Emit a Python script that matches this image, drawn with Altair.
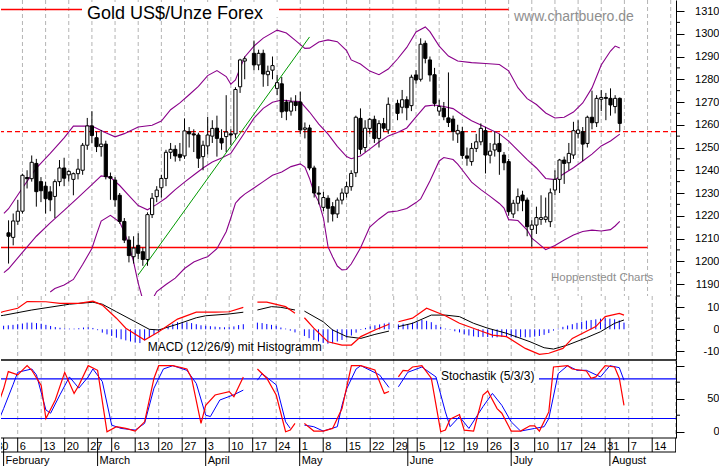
import altair as alt
import numpy as np
import pandas as pd

FONT = "Liberation Sans"
BASE = np.datetime64("2017-01-30")


def sess(d):
    d = d if len(d) > 5 else "2017-" + d
    return int(np.busday_count(BASE, np.datetime64(d)))


# ---------------- candles (one entry per weekday, Feb 1 .. Aug 4) ----------------
candle_first, candle_last = "2017-02-01", "2017-08-04"
opens = [
    1212.5, 1210.5, 1217.6,
    1222, 1236.8, 1236.3, 1243, 1235,
    1233, 1230.5, 1228.5, 1235, 1241,
    1238, 1236, 1238.5, 1240, 1251,
    1259.5, 1254.3, 1250.4, 1251.5, 1237.2,
    1235.7, 1229, 1217.5, 1209.3, 1202,
    1207, 1204.2, 1200.8, 1220.5, 1228.4,
    1232.3, 1236.4, 1247.9, 1249.2, 1247,
    1246.3, 1257, 1256, 1255.5, 1246,
    1250.7, 1255, 1258.5, 1254, 1254.8,
    1256, 1256, 1276.7, 1288, None,
    1291.4, 1286.3, 1291.4, 1282, 1284,
    1276, 1278, 1270, 1266, 1270,
    1270, 1258, 1258.6, 1241, 1230,
    1223.7, 1227.7, 1224, 1220.8, 1226.9,
    1229.9, 1232.8, 1238.9, 1262.8, 1250,
    1258.4, 1262.4, 1254, 1260.5, 1257.7,
    None, 1269.4, 1267.7, 1271, 1268.4,
    1281.9, 1280, 1295.8, 1288.5, 1282,
    1266, 1267.3, 1263, 1262.5, 1256,
    1257, 1246.3, 1243.8, 1249.6, 1252.5,
    1257.4, 1246.6, 1248.9, 1251.8, 1246.7,
    1243.8, 1220.8, 1225.5, 1229.1, 1226.9,
    1214, 1215.9, 1218.4, 1218.4, 1217.4,
    1231.3, 1236, 1244.5, 1243.3, 1246.7,
    1256.2, 1257, 1251.8, 1263.3, 1260.9,
    1271.2, 1272, 1271.6, 1268, 1271.6,
]
highs = [
    1218, 1221, 1227,
    1238.5, 1240, 1246.5, 1245, 1237,
    1235, 1233, 1236, 1244.5, 1245.5,
    1240, 1239, 1245, 1252, 1263,
    1266, 1257, 1257.7, 1253, 1239,
    1237, 1230, 1219, 1211, 1211,
    1212.3, 1206, 1221.5, 1230, 1233,
    1238, 1249, 1252, 1251, 1252,
    1262.8, 1259, 1258, 1256.5, 1253,
    1263.5, 1262, 1264, 1258, 1273,
    1258, 1276.5, 1289, 1290, None,
    1297, 1293, 1293, 1286, 1290,
    1282, 1281, 1271, 1272, 1273,
    1274.5, 1261, 1260, 1242, 1233,
    1230.5, 1229, 1226, 1228, 1232,
    1235, 1240, 1264, 1267.2, 1262,
    1263, 1264, 1262, 1263, 1272,
    None, 1271, 1275.3, 1272.5, 1282,
    1284, 1298, 1297, 1290, 1285,
    1271, 1270, 1283, 1264, 1260,
    1259, 1250, 1252, 1256, 1260.6,
    1259, 1252, 1257, 1256, 1248,
    1245, 1227, 1232, 1231, 1228,
    1218, 1224, 1229, 1228, 1232,
    1240, 1245, 1246, 1252, 1261.3,
    1262, 1259, 1264, 1275, 1273,
    1275.3, 1274, 1276, 1273, 1272,
]
lows = [
    1199, 1207, 1216,
    1221, 1232, 1235, 1224, 1226,
    1221, 1222, 1219, 1233, 1233,
    1235, 1229, 1236, 1238, 1249,
    1252, 1248, 1246, 1236, 1227,
    1224, 1216.5, 1208, 1199.5, 1199,
    1201, 1198, 1198, 1219, 1226,
    1228, 1233, 1245, 1243.8, 1244,
    1245, 1250, 1248, 1241, 1240,
    1247, 1252, 1246, 1249, 1248,
    1251, 1254, 1274, 1280, None,
    1284, 1284, 1276.7, 1277, 1280,
    1273, 1263, 1262, 1264, 1266,
    1256, 1254, 1240, 1228, 1225,
    1222, 1217, 1217.5, 1219, 1225,
    1228, 1231, 1237, 1247, 1248,
    1256, 1252, 1250, 1257, 1256,
    None, 1262, 1265, 1262, 1266,
    1278, 1279, 1287, 1279, 1268,
    1264, 1262, 1259, 1253, 1252,
    1245, 1242, 1242, 1248, 1251,
    1238.6, 1243, 1246, 1238, 1240,
    1220, 1219, 1222, 1222, 1211,
    1206.4, 1212, 1216, 1217, 1215,
    1229, 1230, 1234, 1240, 1245,
    1254, 1244, 1250, 1258, 1259,
    1266, 1262, 1264, 1265, 1257,
]
closes = [
    1211, 1217.7, 1222,
    1237.8, 1236.3, 1243.5, 1230.6, 1231,
    1227.5, 1227, 1235, 1241, 1236.5,
    1239.5, 1238.5, 1240.5, 1251, 1259.5,
    1255.3, 1250.4, 1251.5, 1237.2, 1236.5,
    1227, 1217.5, 1209.3, 1202.5, 1205.8,
    1203.5, 1200.8, 1220.5, 1227.7, 1231.3,
    1236.4, 1247.9, 1249.2, 1246.3, 1245.7,
    1257.3, 1256, 1255.5, 1245.3, 1251,
    1255.5, 1258.4, 1254, 1252, 1256.8,
    1255.5, 1275.5, 1288.5, 1289, None,
    1286.3, 1291.4, 1282.3, 1283.5, 1286,
    1278.5, 1265.7, 1266, 1270, 1268.5,
    1257.7, 1258.6, 1241, 1230, 1229.5,
    1228, 1223.3, 1220.8, 1226.9, 1230,
    1232.8, 1238.6, 1263.3, 1249.2, 1258.5,
    1262.4, 1254, 1260.5, 1258.5, 1269,
    None, 1265, 1271, 1267.5, 1280.9,
    1279.7, 1295.4, 1289.2, 1281.9, 1269.4,
    1268, 1263.5, 1261, 1257, 1257.5,
    1246.5, 1245.3, 1249.6, 1252.5, 1258.4,
    1246.7, 1248.4, 1251.5, 1248.2, 1243.3,
    1221.8, 1225.5, 1228.4, 1226.6, 1215.2,
    1215.9, 1219.2, 1219.2, 1219.5, 1230.1,
    1236, 1244.5, 1243, 1247.4, 1257.4,
    1257.7, 1251.5, 1263.3, 1260.9, 1271.6,
    1272, 1271.6, 1268.7, 1271.6, 1260.6,
]

# ---------------- Bollinger bands ----------------
upper_band = [("01-31",1221.0),("02-01",1223.1),("02-06",1232.2),("02-09",1240.9),("02-14",1247.4),("02-17",1254.2),("02-21",1259.4),("02-27",1259.4),("03-02",1256.5),("03-06",1254.7),("03-08",1256.1),("03-13",1259.0),("03-16",1259.8),("03-20",1261.6),("03-22",1266.6),("03-24",1269.6),("03-28",1273.2),("03-30",1276.9),("04-03",1281.6),("04-05",1283.8),("04-07",1281.2),("04-10",1277.9),("04-11",1279.7),("04-12",1284.9),("04-13",1289.8),("04-17",1294.6),("04-19",1298.1),("04-24",1301.6),("04-26",1300.3),("04-28",1297.0),("05-02",1293.6),("05-03",1293.7),("05-05",1296.4),("05-09",1297.3),("05-11",1296.5),("05-15",1292.6),("05-16",1288.5),("05-18",1286.7),("05-22",1283.6),("05-24",1282.0),("05-26",1284.5),("05-30",1288.9),("06-01",1294.0),("06-05",1300.8),("06-07",1303.0),("06-08",1300.9),("06-12",1294.6),("06-14",1290.2),("06-16",1288.0),("06-21",1287.3),("06-26",1286.9),("06-29",1286.5),("07-03",1283.7),("07-05",1276.3),("07-07",1271.5),("07-11",1268.9),("07-13",1265.2),("07-17",1263.0),("07-19",1263.3),("07-21",1265.6),("07-25",1269.6),("07-27",1276.2),("07-31",1286.3),("08-02",1292.4),("08-03",1294.6),("08-04",1293.7)]
middle_band = [("01-31",1195.0),("02-01",1196.7),("02-06",1203.9),("02-09",1211.0),("02-14",1216.9),("02-17",1222.4),("02-22",1228.0),("02-27",1233.7),("03-01",1237.5),("03-03",1236.9),("03-07",1233.3),("03-09",1228.9),("03-13",1224.5),("03-15",1222.6),("03-17",1225.0),("03-21",1227.8),("03-23",1231.5),("03-27",1234.8),("03-29",1237.9),("03-31",1241.0),("04-04",1243.6),("04-06",1245.4),("04-10",1247.4),("04-12",1253.5),("04-13",1256.6),("04-17",1262.9),("04-19",1267.2),("04-21",1269.9),("04-25",1270.9),("04-27",1270.4),("05-01",1270.2),("05-03",1265.6),("05-05",1260.3),("05-09",1255.9),("05-11",1250.5),("05-15",1246.0),("05-16",1245.1),("05-18",1246.3),("05-22",1249.3),("05-24",1252.4),("05-26",1255.1),("05-30",1256.6),("06-01",1258.6),("06-05",1263.5),("06-07",1268.2),("06-09",1268.7),("06-13",1268.0),("06-15",1267.1),("06-19",1264.3),("06-21",1261.8),("06-23",1259.9),("06-27",1257.9),("06-29",1256.0),("07-03",1252.8),("07-05",1248.7),("07-07",1244.7),("07-11",1241.0),("07-13",1236.4),("07-17",1235.9),("07-19",1238.6),("07-21",1241.1),("07-25",1244.1),("07-27",1247.1),("07-31",1250.7),("08-02",1252.9),("08-04",1255.9)]
lower_band = [("02-14",1186.5),("02-15",1188.0),("02-17",1189.6),("02-21",1192.0),("02-23",1198.6),("02-27",1205.6),("02-28",1211.8),("03-01",1217.7),("03-03",1220.2),("03-07",1217.2),("03-08",1212.7),("03-09",1207.1),("03-10",1199.7),("03-13",1190.4),("03-14",1183.0),("03-15",1180.0),("03-16",1183.0),("03-17",1186.7),("03-21",1189.8),("03-23",1192.6),("03-27",1196.8),("03-29",1199.7),("03-31",1201.3),("04-03",1202.0),("04-05",1205.5),("04-07",1213.0),("04-10",1219.0),("04-11",1225.5),("04-12",1227.8),("04-13",1229.5),("04-17",1232.2),("04-19",1235.0),("04-21",1237.8),("04-25",1239.2),("04-27",1241.6),("05-01",1242.8),("05-02",1241.4),("05-03",1236.4),("05-04",1230.0),("05-05",1226.0),("05-08",1219.0),("05-09",1206.3),("05-10",1201.9),("05-11",1197.9),("05-12",1196.2),("05-15",1196.4),("05-16",1198.8),("05-18",1205.8),("05-22",1215.0),("05-24",1218.6),("05-26",1221.6),("05-30",1222.1),("06-01",1223.2),("06-05",1225.8),("06-06",1227.4),("06-07",1231.3),("06-08",1235.3),("06-09",1239.7),("06-12",1244.1),("06-13",1245.6),("06-15",1244.7),("06-16",1242.7),("06-19",1240.1),("06-21",1234.8),("06-23",1231.5),("06-27",1228.5),("06-29",1225.4),("06-30",1223.4),("07-03",1218.3),("07-05",1217.9),("07-07",1213.7),("07-10",1210.2),("07-11",1208.5),("07-13",1205.1),("07-17",1206.9),("07-19",1209.3),("07-21",1211.5),("07-25",1213.1),("07-27",1213.7),("07-31",1213.3),("08-02",1213.9),("08-03",1215.5),("08-04",1217.5)]

# drawn lines on the price chart
trend_line = [("03-13", 1194.0), ("05-03", 1298.6)]
red_segments = [("01-30", "07-03", 1310.7), ("01-30", "08-14", 1206.1)]
red_dashed_level = 1257.0

# ---------------- MACD (12/26/9) ----------------
macd_line = [("01-31",7.3),("02-01",8.0),("02-06",9.5),("02-08",12.5),("02-14",12.4),("02-17",11.7),("02-23",11.7),("02-28",12.7),("03-02",10.9),("03-07",5.0),("03-09",0.5),("03-15",-4.8),("03-20",-1.1),("03-24",4.6),("03-30",7.7),("04-05",7.7),("04-10",7.9),("04-13",9.9),("04-14",None),("04-18",12.2),("04-20",12.2),("04-26",10.2),("04-28",7.2),("05-01",None),("05-02",5.2),("05-04",0.5),("05-09",-5.6),("05-12",-7.1),("05-16",-7.1),("05-18",-3.3),("05-23",-0.3),("05-26",2.3),("05-29",None),("05-30",3.4),("06-02",5.0),("06-07",9.5),("06-13",6.1),("06-16",2.7),("06-23",-1.1),("06-27",-2.6),("06-30",-3.3),("07-06",-8.6),("07-11",-11.3),("07-13",-10.8),("07-18",-8.6),("07-20",-4.1),("07-27",1.2),("07-31",5.7),("08-03",7.2),("08-04",6.4)]
signal_line = [("01-31",6.0),("02-01",6.3),("02-09",8.7),("02-21",11.3),("02-28",12.2),("03-02",11.3),("03-07",7.9),("03-13",3.4),("03-16",0.0),("03-20",-0.3),("03-24",2.3),("03-30",5.2),("04-03",6.1),("04-10",6.9),("04-13",7.7),("04-14",None),("04-18",8.7),("04-21",10.2),("04-25",9.9),("04-28",8.7),("05-01",None),("05-02",8.2),("05-08",3.4),("05-10",-0.3),("05-15",-3.3),("05-18",-4.1),("05-23",-2.3),("05-26",-0.8),("05-29",None),("05-30",1.2),("06-02",2.7),("06-08",6.4),("06-13",6.4),("06-16",5.7),("06-21",2.7),("06-26",0.5),("06-30",-1.8),("07-07",-5.6),("07-12",-8.3),("07-14",-8.9),("07-19",-7.1),("07-25",-3.8),("07-28",-1.1),("08-02",2.7),("08-04",4.2)]
# histogram, one entry per weekday Feb 1 .. Aug 4
histogram = [
    1.6, 1.8, 2.0,
    2.2, 2.6, 3.0, 3.0, 2.8,
    2.5, 2.0, 1.5, 1.0, 0.7,
    0.4, 0.3, 0.3, 0.5, 0.8,
    0.9, 0.6, -0.4, -1.5, -2.3,
    -3.0, -3.8, -4.5, -5.0, -5.5,
    -6.0, -6.2, -5.0, -3.8, -2.5,
    -1.2, 0.2, 1.2, 2.5, 3.2,
    3.4, 3.2, 2.8, 2.3, 1.8,
    1.6, 1.4, 1.2, 1.0, 0.9,
    0.9, 1.3, 1.9, 2.3, None,
    None, 3.0, 2.8, 2.4, 2.0,
    1.6, 0.8, 0.3, -0.6, -1.4,
    None, -3.0, -4.0, -4.8, -5.5,
    -6.2, -6.5, -6.3, -5.5, -4.8,
    -3.8, -2.8, -1.5, -0.3, 0.6,
    1.3, 1.8, 2.2, 2.6, 3.0,
    None, 2.2, 2.5, 2.4, 3.0,
    3.3, 4.2, 3.8, 3.2, 2.0,
    1.0, 0.3, -0.2, -0.9, -1.4,
    -2.2, -2.8, -3.2, -3.5, -3.4,
    -3.5, -3.7, -3.6, -3.4, -3.2,
    -3.6, -3.8, -3.7, -3.6, -3.6,
    -3.3, -3.0, -2.5, -1.7, -0.6,
    0.3, 1.1, 1.7, 2.3, 2.9,
    3.4, 3.9, 4.2, 4.5, 4.8,
    5.0, 4.8, 4.5, 4.0, 3.0,
]

# ---------------- Stochastik (5/3/3) ----------------
stoch_k = [("01-31",45),("02-01",65),("02-02",91),("02-06",86),("02-08",100),("02-09",93),("02-13",70),("02-14",20),("02-16",48),("02-20",90),("02-22",58),("02-23",70),("02-27",100),("03-01",93),("03-03",0),("03-07",7.6),("03-09",5),("03-13",1),("03-15",15),("03-17",81),("03-20",100),("03-23",100),("03-28",95),("03-29",81),("03-31",12.6),("04-03",40),("04-05",55.6),("04-10",60.6),("04-11",53),("04-13",83),("04-14",None),("04-18",95),("04-20",81),("04-24",55.6),("04-26",0),("04-27",2.5),("04-28",12.6),("05-01",None),("05-02",12.6),("05-04",1),("05-08",1),("05-10",5),("05-12",35),("05-16",100),("05-18",100),("05-23",93.4),("05-25",58),("05-26",61),("05-29",None),("05-30",83),("05-31",93),("06-01",92),("06-02",98),("06-06",100),("06-08",81),("06-12",0),("06-13",2.5),("06-14",19),("06-16",26),("06-19",2.5),("06-21",1),("06-23",55.6),("06-26",61.6),("06-28",35),("06-29",28),("07-03",1),("07-05",1),("07-07",9),("07-10",9),("07-11",1),("07-13",30),("07-14",98),("07-19",100),("07-20",95),("07-25",92),("07-26",81),("07-27",83),("07-31",100),("08-02",98),("08-03",81),("08-04",40)]
stoch_d = [("01-31",18),("02-01",35),("02-03",71),("02-06",90),("02-09",95),("02-10",86),("02-14",33),("02-15",28),("02-17",56),("02-21",83),("02-23",66),("02-27",83),("02-28",95),("03-02",76),("03-06",10),("03-08",5),("03-13",2.5),("03-15",12.6),("03-17",66),("03-21",95),("03-23",100),("03-28",93),("03-30",73),("04-03",25),("04-04",23),("04-06",48),("04-11",56),("04-13",63),("04-14",None),("04-18",78),("04-19",88),("04-24",71),("04-26",15),("04-27",5),("05-01",None),("05-02",10),("05-04",7.6),("05-08",1),("05-11",7.6),("05-12",40),("05-15",65),("05-17",95),("05-18",100),("05-24",86),("05-26",67),("05-29",None),("05-30",68),("06-01",90),("06-06",98),("06-09",83),("06-13",30),("06-14",7.6),("06-16",23),("06-20",5),("06-23",38),("06-27",58),("06-29",40),("07-03",15),("07-05",1),("07-10",5),("07-12",7.6),("07-13",20),("07-17",88),("07-19",100),("07-21",93),("07-25",93),("07-28",83),("08-01",100),("08-03",97),("08-04",78)]
stoch_levels = [20, 80]

# ---------------- date axis ----------------
week_start = "2017-01-30"
week_labels = ["30","6","13","20","27","6","13","20","27","3","10","17","24","1","8","15",
               "22","29","5","12","19","26","3","10","17","24","31","7","14","21"]
month_names = ["February", "March", "April", "May", "June", "July", "August"]
month_first = ["02-01", "03-01", "04-03", "05-01", "06-01", "07-03", "08-01"]

# ---------------- axis ticks ----------------
price_major = list(range(1190, 1311, 10))
price_minor = list(range(1195, 1306, 10))
macd_major, macd_minor = [-10, 0, 10], [-5, 5, 15]
stoch_major, stoch_minor = [0, 50, 100], [25, 75]

RED = "#ff0000"
PURPLE = "#8a008a"

# ================= build tables =================
days = [d.strftime("%Y-%m-%d") for d in pd.bdate_range(candle_first, candle_last)]
cd = pd.DataFrame({"d": days, "o": opens, "h": highs, "l": lows, "c": closes}).dropna()
cd["i"] = [sess(d) for d in cd["d"]]
cd["dir"] = np.where(cd["c"] >= cd["o"], "up", "down")

hd = pd.DataFrame({"d": days, "v": histogram}).dropna()
hd["i"] = [sess(d) for d in hd["d"]]
hd["zero"] = 0.0


def series(pairs, name):
    rows, seg = [], 0
    for d, v in pairs:
        if v is None:
            seg += 1
            continue
        rows.append({"i": sess(d), "v": v, "seg": f"{name}{seg}"})
    return pd.DataFrame(rows)


bands = pd.concat([series(upper_band, "u"), series(middle_band, "m"), series(lower_band, "l")])
trend = series(trend_line, "t")
segs = pd.DataFrame([{"i1": sess(a), "i2": sess(b), "p": p} for a, b, p in red_segments])
weeks = pd.DataFrame({"d": pd.date_range(week_start, periods=len(week_labels), freq="7D").strftime("%Y-%m-%d"),
                      "lab": week_labels})
weeks["i"] = [sess(d) for d in weeks["d"]]
months = pd.DataFrame({"i": [sess(d) for d in month_first], "lab": month_names})

xscale = alt.Scale(domain=[1.447, 145.064], nice=False, zero=False)


def X(f):
    return alt.X(f, type="quantitative", scale=xscale, axis=None)


def right_axis(values, expr):
    return alt.Axis(orient="right", values=values, tickSize=8, tickColor="black", tickWidth=1,
                    domainColor="black", domainWidth=1, labelColor="black", labelFont=FONT,
                    labelFontSize=11, labelAlign="right", labelPadding=35, labelBaseline="middle",
                    grid=False, title=None, labelOverlap=False, labelExpr=expr)


def grid_layer():
    return alt.Chart(weeks).mark_rule(color="#b4b4b4", strokeDash=[4, 3], strokeWidth=1, clip=True).encode(x=X("i"))


def minor_layer(vals, Yf):
    return alt.Chart(pd.DataFrame({"t": vals})).mark_rule(color="black", strokeWidth=1).encode(
        x=alt.value(675), x2=alt.value(679), y=Yf("t"))


def text_layer(txt, x, y, size, color="black", baseline="alphabetic"):
    return alt.Chart(pd.DataFrame({"t": [txt]})).mark_text(
        align="left", baseline=baseline, font=FONT, fontSize=size, color=color).encode(
        text="t:N", x=alt.value(x), y=alt.value(y))


def white_box(x1, x2, y1, y2):
    return alt.Chart(pd.DataFrame({"a": [0]})).mark_rect(color="white").encode(
        x=alt.value(x1), x2=alt.value(x2), y=alt.value(y1), y2=alt.value(y2))


# ---------------- price panel ----------------
pscale = alt.Scale(domain=[1184.73, 1314.84], nice=False, zero=False)
paxis = right_axis(price_major, "'' + datum.value")


def PY(f):
    return alt.Y(f, type="quantitative", scale=pscale, axis=paxis)


price = alt.layer(
    grid_layer(),
    alt.Chart(pd.DataFrame({"p": [red_dashed_level]})).mark_rule(
        color=RED, strokeDash=[5, 3], strokeWidth=1.4).encode(y=PY("p")),
    alt.Chart(segs).mark_rule(color=RED, strokeWidth=1.5, clip=True).encode(
        x=X("i1"), x2="i2", y=PY("p")),
    alt.Chart(bands).mark_line(color=PURPLE, strokeWidth=1.1, clip=True).encode(
        x=X("i"), y=PY("v"), detail="seg:N"),
    alt.Chart(trend).mark_line(color="#009900", strokeWidth=1, clip=True).encode(x=X("i"), y=PY("v")),
    alt.Chart(cd).mark_rule(color="black", strokeWidth=1, clip=True).encode(x=X("i"), y=PY("l"), y2="h"),
    alt.Chart(cd).mark_bar(size=3.2, stroke="black", strokeWidth=1, clip=True).encode(
        x=X("i"), y=PY("o"), y2="c",
        color=alt.Color("dir:N", scale=alt.Scale(domain=["up", "down"], range=["white", "black"]), legend=None)),
    white_box(81, 278, 2, 17),
    text_layer("Gold US$/Unze Forex", 86, 18.5, 18),
    text_layer("www.chartbuero.de", 513, 20.7, 14, "#8e8e8e"),
    text_layer("Hoppenstedt Charts", 550, 280.7, 11.5, "#8e8e8e"),
    minor_layer(price_minor, PY),
).properties(width=675, height=296)

# ---------------- MACD panel ----------------
mscale = alt.Scale(domain=[-13.83, 15.0], nice=False, zero=False)
maxis = right_axis(macd_major, "'' + datum.value")


def MY(f):
    return alt.Y(f, type="quantitative", scale=mscale, axis=maxis)


macd = alt.layer(
    grid_layer(),
    alt.Chart(hd).mark_rule(color="#0000ff", strokeWidth=1, clip=True).encode(x=X("i"), y=MY("zero"), y2="v"),
    alt.Chart(series(signal_line, "s")).mark_line(color="black", strokeWidth=1, clip=True).encode(
        x=X("i"), y=MY("v"), detail="seg:N"),
    alt.Chart(series(macd_line, "m")).mark_line(color=RED, strokeWidth=1.2, clip=True).encode(
        x=X("i"), y=MY("v"), detail="seg:N"),
    text_layer("MACD (12/26/9) mit Histogramm", 146.7, 55.2, 12),
    minor_layer(macd_minor, MY),
).properties(width=675, height=64)

# ---------------- Stochastic panel ----------------
sscale = alt.Scale(domain=[-9.5, 108.6], nice=False, zero=False)
saxis = right_axis(stoch_major, "datum.value == 100 ? '' : '' + datum.value")


def SY(f):
    return alt.Y(f, type="quantitative", scale=sscale, axis=saxis)


stoch = alt.layer(
    grid_layer(),
    alt.Chart(pd.DataFrame({"lv": stoch_levels})).mark_rule(color="#0000ff", strokeWidth=1.2).encode(y=SY("lv")),
    alt.Chart(pd.DataFrame({"a": [0]})).mark_rule(color="black", strokeWidth=1.3).encode(
        x=alt.value(0), x2=alt.value(675), y=alt.value(0)),
    white_box(436, 538, 11, 23),
    text_layer("Stochastik (5/3/3)", 440, 19.5, 12),
    alt.Chart(series(stoch_d, "d")).mark_line(color="#0000ff", strokeWidth=1, clip=True).encode(
        x=X("i"), y=SY("v"), detail="seg:N"),
    alt.Chart(series(stoch_k, "k")).mark_line(color=RED, strokeWidth=1.2, clip=True).encode(
        x=X("i"), y=SY("v"), detail="seg:N"),
    minor_layer(stoch_minor, SY),
).properties(width=675, height=78)

# ---------------- date axis panel ----------------
hl = pd.DataFrame({"a": [0]})
datep = alt.layer(
    alt.Chart(hl).mark_rule(color="black", strokeWidth=1).encode(x=alt.value(0), x2=alt.value(675), y=alt.value(0)),
    alt.Chart(hl).mark_rule(color="black", strokeWidth=1).encode(x=alt.value(0), x2=alt.value(675), y=alt.value(14)),
    alt.Chart(weeks).mark_rule(color="black", strokeWidth=1, clip=True).encode(
        x=X("i"), y=alt.value(0), y2=alt.value(14)),
    alt.Chart(months).mark_rule(color="black", strokeWidth=1, clip=True).encode(
        x=X("i"), y=alt.value(0), y2=alt.value(28)),
    alt.Chart(weeks).mark_text(align="left", baseline="alphabetic", dx=2, font=FONT, fontSize=11,
                               color="black", clip=True).encode(x=X("i"), y=alt.value(11.5), text="lab:N"),
    alt.Chart(months).mark_text(align="left", baseline="alphabetic", dx=2, font=FONT, fontSize=11,
                                color="black", clip=True).encode(x=X("i"), y=alt.value(25.5), text="lab:N"),
).properties(width=675, height=28)

chart = alt.vconcat(price, macd, stoch, datep, spacing=0, bounds="flush").properties(
    padding=0, background="white"
).configure_view(stroke=None)

chart.save("out.html", embed_options={"renderer": "svg", "actions": False})
